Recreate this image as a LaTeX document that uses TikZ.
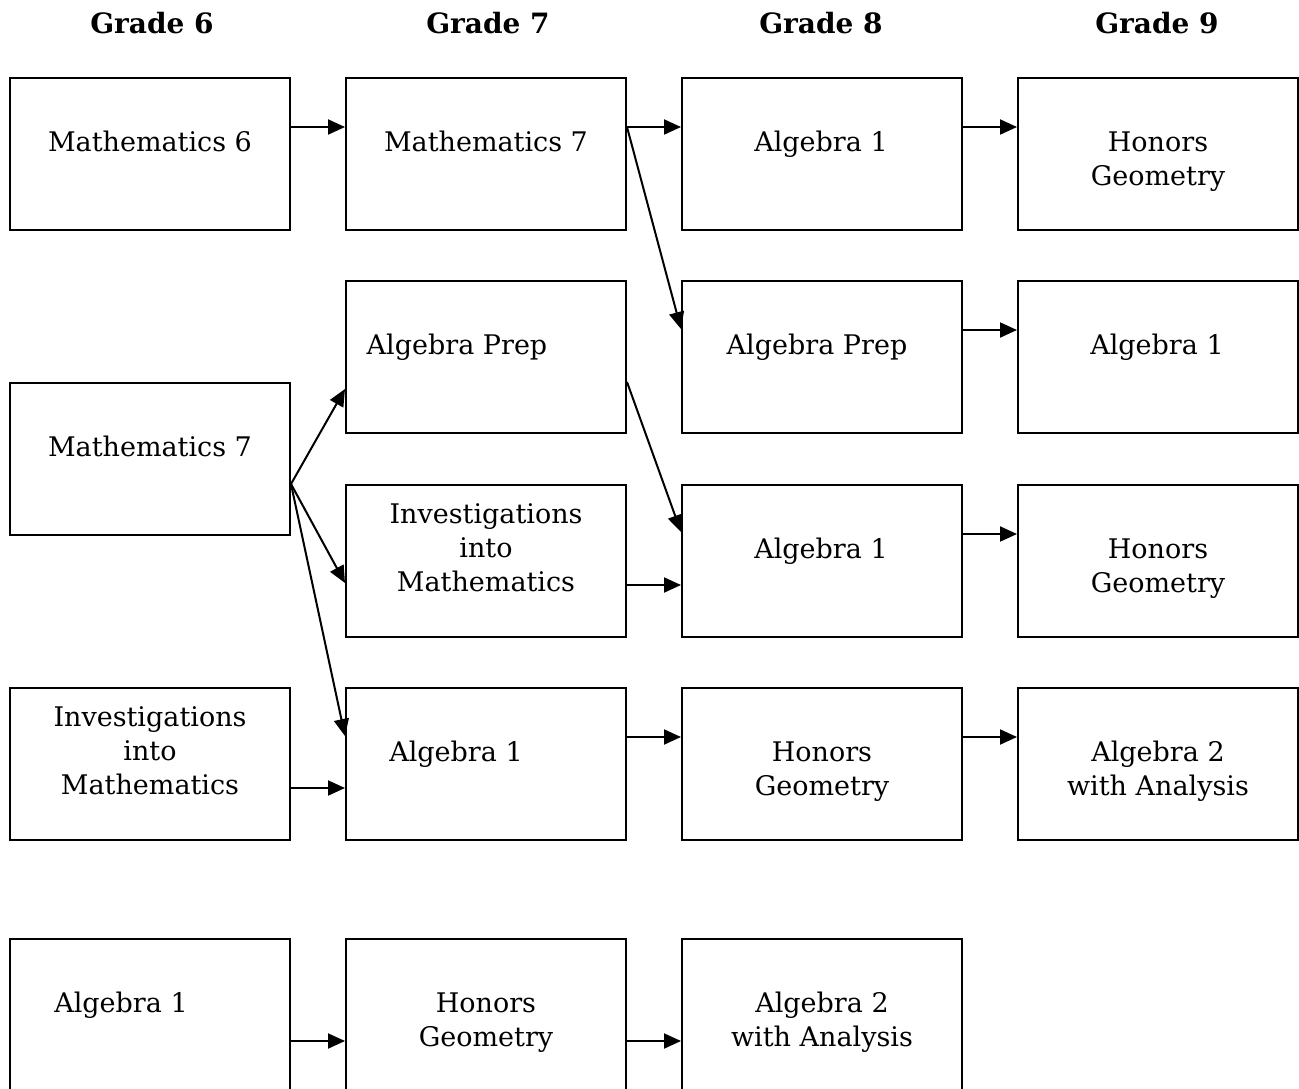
\documentclass[tikz,border=0pt]{standalone}
\usepackage{fontspec}
\setmainfont{DejaVu Serif}
\usetikzlibrary{arrows.meta}
\newcommand\mystack[1]{\begin{tabular}[t]{@{}c@{}}#1\end{tabular}}
\begin{document}
\begin{tikzpicture}[x=1pt,y=-1pt,
 box/.style={draw, line width=2pt, rectangle, minimum width=280pt, minimum height=152pt, inner sep=0pt},
 lbl/.style={anchor=base, align=center, font=\fontsize{27}{34}\selectfont, inner sep=0pt},
 hdr/.style={anchor=base, font=\fontsize{28}{32}\selectfont\bfseries, inner sep=0pt},
 arr/.style={line width=2pt, -{Triangle[length=17pt,width=15pt]}}]
\useasboundingbox (0,0) rectangle (1299,1088);

% headers
\node[hdr] (g6) at (152,33) {Grade 6};
\node[hdr] (g7) at (488,33) {Grade 7};
\node[hdr] (g8) at (821,33) {Grade 8};
\node[hdr] (g9) at (1157,33) {Grade 9};

% boxes
\node[box] (m6)   at (150,154) {};
\node[box] (m7a)  at (486,154) {};
\node[box] (a1a)  at (822,154) {};
\node[box] (hg1)  at (1158,154) {};
\node[box] (ap7)  at (486,357) {};
\node[box] (ap8)  at (822,357) {};
\node[box] (a1b)  at (1158,357) {};
\node[box] (m7b)  at (150,459) {};
\node[box] (inv7) at (486,561) {};
\node[box] (a1c)  at (822,561) {};
\node[box] (hg3)  at (1158,561) {};
\node[box] (inv6) at (150,764) {};
\node[box] (a1d)  at (486,764) {};
\node[box] (hg4)  at (822,764) {};
\node[box] (a24)  at (1158,764) {};
\node[box] (a1e)  at (150,1015) {};
\node[box] (hg5)  at (486,1015) {};
\node[box] (a25)  at (822,1015) {};

% texts
\node[lbl] (tm6)   at (150,151) {Mathematics 6};
\node[lbl] (tm7a)  at (486,151) {Mathematics 7};
\node[lbl] (ta1a)  at (821,151) {Algebra 1};
\node[lbl] (thg1)  at (1158,151) {\mystack{Honors\\Geometry}};
\node[lbl] (tap7)  at (457,354) {Algebra Prep};
\node[lbl] (tap8)  at (817,354) {Algebra Prep};
\node[lbl] (ta1b)  at (1157,354) {Algebra 1};
\node[lbl] (tm7b)  at (150,456) {Mathematics 7};
\node[lbl] (tinv7) at (486,523) {\mystack{Investigations\\into\\Mathematics}};
\node[lbl] (ta1c)  at (821,558) {Algebra 1};
\node[lbl] (thg3)  at (1158,558) {\mystack{Honors\\Geometry}};
\node[lbl] (tinv6) at (150,726) {\mystack{Investigations\\into\\Mathematics}};
\node[lbl] (ta1d)  at (456,761) {Algebra 1};
\node[lbl] (thg4)  at (822,761) {\mystack{Honors\\Geometry}};
\node[lbl] (ta24)  at (1158,761) {\mystack{Algebra 2\\with Analysis}};
\node[lbl] (ta1e)  at (121,1012) {Algebra 1};
\node[lbl] (thg5)  at (486,1012) {\mystack{Honors\\Geometry}};
\node[lbl] (ta25)  at (822,1012) {\mystack{Algebra 2\\with Analysis}};

% arrows
\draw[arr] ([yshift=-50pt]m6.north east) -- ([yshift=-50pt]m7a.north west);
\draw[arr] ([yshift=-50pt]m7a.north east) -- ([yshift=-50pt]a1a.north west);
\draw[arr] ([yshift=-50pt]a1a.north east) -- ([yshift=-50pt]hg1.north west);
\draw[arr] ([yshift=-50pt]m7a.north east) -- ([yshift=-49pt]ap8.north west);
\draw[arr] ([yshift=-50pt]ap8.north east) -- ([yshift=-50pt]a1b.north west);
\draw[arr] ([yshift=-102pt]ap7.north east) -- ([yshift=-48pt]a1c.north west);
\draw[arr] ([yshift=-102pt]m7b.north east) -- ([yshift=-109pt]ap7.north west);
\draw[arr] ([yshift=-102pt]m7b.north east) -- ([yshift=-99pt]inv7.north west);
\draw[arr] ([yshift=-102pt]m7b.north east) -- ([yshift=-49pt]a1d.north west);
\draw[arr] ([yshift=-101pt]inv7.north east) -- ([yshift=-101pt]a1c.north west);
\draw[arr] ([yshift=-50pt]a1c.north east) -- ([yshift=-50pt]hg3.north west);
\draw[arr] ([yshift=-101pt]inv6.north east) -- ([yshift=-101pt]a1d.north west);
\draw[arr] ([yshift=-50pt]a1d.north east) -- ([yshift=-50pt]hg4.north west);
\draw[arr] ([yshift=-50pt]hg4.north east) -- ([yshift=-50pt]a24.north west);
\draw[arr] ([yshift=-103pt]a1e.north east) -- ([yshift=-103pt]hg5.north west);
\draw[arr] ([yshift=-103pt]hg5.north east) -- ([yshift=-103pt]a25.north west);
\end{tikzpicture}
\end{document}
